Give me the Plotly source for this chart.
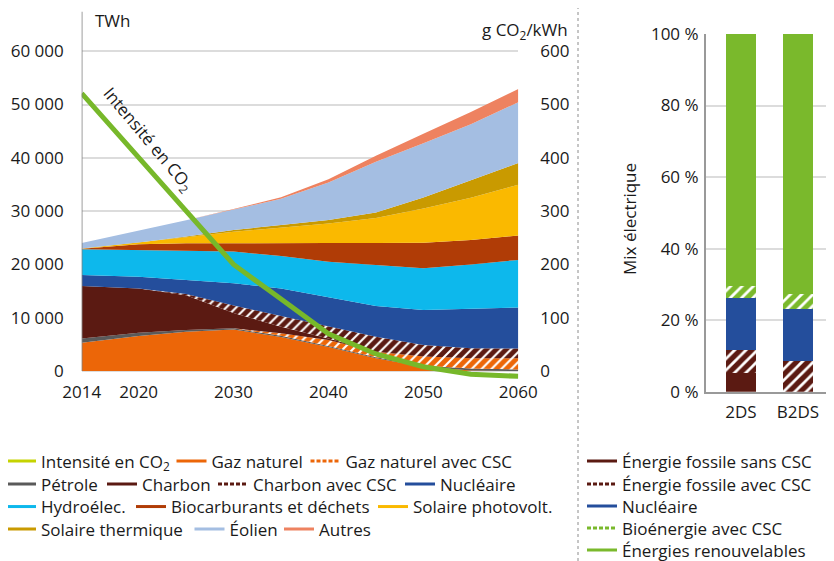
import plotly.graph_objects as go

# ---------------- data ----------------
years = [2014, 2020, 2025, 2030, 2035, 2040, 2045, 2050, 2055, 2060]
gaz_naturel = [5300, 6550, 7350, 7800, 6400, 4500, 2400, 800, 100, 0]
petrole = [800, 650, 350, 200, 200, 200, 200, 200, 350, 300]
gaz_naturel_csc = [0, 0, 0, 0, 500, 1100, 1000, 1700, 1950, 2100]
charbon = [9850, 8300, 6500, 2900, 1200, 300, 0, 0, 0, 0]
charbon_csc = [0, 0, 250, 1400, 2000, 2300, 2850, 2200, 1850, 1800]
nucleaire = [2060, 2190, 2620, 4150, 5200, 5500, 5750, 6540, 7350, 7700]
hydroelec = [4840, 5010, 5510, 5950, 6100, 6600, 7700, 7820, 8400, 8950]
biocarburants = [100, 1100, 1370, 1600, 2400, 3500, 4100, 4790, 4600, 4550]
solaire_pv = [50, 270, 1130, 2140, 2950, 3680, 4700, 6440, 7920, 9550]
solaire_thermique = [0, 30, 170, 310, 440, 670, 1040, 2050, 3270, 4070]
eolien = [1000, 2150, 3020, 3840, 4920, 7010, 9520, 10210, 10500, 11400]
autres = [0, 0, 0, 110, 290, 630, 1140, 1770, 2290, 2500]
intensite_co2 = [521, 400, 300, 200, 135, 70, 32, 8, -6, -10]

x_tick_vals = [2014, 2020, 2030, 2040, 2050, 2060]
y_tick_vals = [0, 10000, 20000, 30000, 40000, 50000, 60000]
y_tick_text = ["0", "10 000", "20 000", "30 000", "40 000", "50 000", "60 000"]
y2_tick_vals = [0, 100, 200, 300, 400, 500, 600]

scenarios = ["2DS", "B2DS"]
fossile_sans_csc = [5.3, 0.0]
fossile_avec_csc = [6.4, 8.7]
nucleaire_mix = [14.5, 14.3]
bioenergie_csc = [3.4, 4.3]
renouvelables = [70.4, 72.7]
pct_tick_vals = [0, 20, 40, 60, 80, 100]
pct_tick_text = ["0 %", "20 %", "40 %", "60 %", "80 %", "100 %"]

# ---------------- style ----------------
FONT = "Open Sans"
TXT = "#1a1a1a"
C_GAZ = "#EC6608"
C_PET = "#5A5A5A"
C_CHA = "#5B1A12"
C_NUC = "#244E9C"
C_HYD = "#0DB8EC"
C_BIO = "#B03C06"
C_PV = "#FAB900"
C_ST = "#C99A00"
C_EOL = "#A4BEE2"
C_AUT = "#EE8260"
C_LINE = "#77B82A"
C_LEG_LINE = "#C5D300"
C_REN = "#7AB92C"

# page body has an 8px margin: figure is sized to the visible area
OFF = 8
W, H = 834 - OFF, 561 - OFF

def fx(sx):  # screen x -> paper fraction
    return (sx - OFF) / W

def fy(sy):  # screen y -> paper fraction
    return 1 - (sy - OFF) / H

fig = go.Figure()

def area(y, color, pattern=None):
    kw = dict(x=years, y=y, mode="lines", line=dict(width=0, color=color),
              stackgroup="one", fillcolor=color, showlegend=False,
              hoverinfo="skip", xaxis="x", yaxis="y")
    if pattern:
        kw["fillpattern"] = dict(shape="/", fgcolor=pattern, bgcolor="white",
                                 fgopacity=1, fillmode="replace",
                                 size=7, solidity=0.7)
        kw["fillcolor"] = "white"
    fig.add_trace(go.Scatter(**kw))

area(gaz_naturel, C_GAZ)
area(petrole, C_PET)
area(gaz_naturel_csc, C_GAZ, pattern=C_GAZ)
area(charbon, C_CHA)
area(charbon_csc, C_CHA, pattern=C_CHA)
area(nucleaire, C_NUC)
area(hydroelec, C_HYD)
area(biocarburants, C_BIO)
area(solaire_pv, C_PV)
area(solaire_thermique, C_ST)
area(eolien, C_EOL)
area(autres, C_AUT)

fig.add_trace(go.Scatter(x=years, y=intensite_co2, mode="lines",
                         line=dict(color=C_LINE, width=5),
                         showlegend=False, hoverinfo="skip",
                         xaxis="x", yaxis="y2"))

# right bar chart
def bar(vals, color, pattern=None):
    marker = dict(color=color, line=dict(width=0))
    if pattern:
        marker = dict(color="white", line=dict(width=0),
                      pattern=dict(shape="/", fgcolor=pattern, bgcolor="white",
                                   fgopacity=1, fillmode="replace",
                                   size=8, solidity=0.65))
    fig.add_trace(go.Bar(x=scenarios, y=vals, marker=marker, width=0.52,
                         showlegend=False, hoverinfo="skip",
                         xaxis="x2", yaxis="y3"))

bar(fossile_sans_csc, C_CHA)
bar(fossile_avec_csc, C_CHA, pattern=C_CHA)
bar(nucleaire_mix, C_NUC)
bar(bioenergie_csc, C_REN, pattern=C_REN)
bar(renouvelables, C_REN)

# legend entries: one small legend per entry (text start x, row y, on screen)
DASH = "4px,2px"
legend_entries = [
    ("Intensité en CO<sub>2</sub>", C_LEG_LINE, "solid", 41, 461.5),
    ("Gaz naturel", C_GAZ, "solid", 211.5, 461.5),
    ("Gaz naturel avec CSC", C_GAZ, DASH, 345.5, 461.5),
    ("Pétrole", C_PET, "solid", 41, 484.5),
    ("Charbon", C_CHA, "solid", 142, 484.5),
    ("Charbon avec CSC", C_CHA, DASH, 253, 484.5),
    ("Nucléaire", C_NUC, "solid", 440, 484.5),
    ("Hydroélec.", C_HYD, "solid", 41, 507),
    ("Biocarburants et déchets", C_BIO, "solid", 171, 507),
    ("Solaire photovolt.", C_PV, "solid", 413, 507),
    ("Solaire thermique", C_ST, "solid", 41, 529.5),
    ("Éolien", C_EOL, "solid", 229.5, 529.5),
    ("Autres", C_AUT, "solid", 319, 529.5),
    ("Énergie fossile sans CSC", C_CHA, "solid", 622, 461.5),
    ("Énergie fossile avec CSC", C_CHA, DASH, 622, 484.5),
    ("Nucléaire", C_NUC, "solid", 622, 506.5),
    ("Bioénergie avec CSC", C_REN, DASH, 622, 528.5),
    ("Énergies renouvelables", C_REN, "solid", 622, 550.5),
]

legend_layout = {}
for i, (name, color, dash, tx, ty) in enumerate(legend_entries):
    lid = "legend" if i == 0 else f"legend{i + 1}"
    fig.add_trace(go.Scatter(x=[None], y=[None], mode="lines", name=name,
                             line=dict(color=color, width=3, dash=dash),
                             legend=lid, showlegend=True, hoverinfo="skip",
                             xaxis="x", yaxis="y"))
    legend_layout[lid] = dict(
        orientation="h", x=fx(tx - 40), y=fy(ty), xanchor="left",
        yanchor="middle", font=dict(family=FONT, size=17, color=TXT),
        bgcolor="rgba(0,0,0,0)", borderwidth=0, itemwidth=30,
        traceorder="normal", tracegroupgap=0)

layout = dict(
    width=W, height=H,
    margin=dict(l=0, r=0, t=0, b=0, autoexpand=False),
    paper_bgcolor="white", plot_bgcolor="white",
    font=dict(family=FONT, size=17, color=TXT),
    xaxis=dict(domain=[fx(81.7), fx(518.3)], range=[2014, 2060],
               tickvals=x_tick_vals, showgrid=False, zeroline=False,
               showline=False, ticks="", ticklabelstandoff=1, automargin=False,
               tickfont=dict(size=17, color=TXT)),
    yaxis=dict(domain=[fy(379), fy(11.5)], range=[-1500, 67450],
               tickvals=y_tick_vals, ticktext=y_tick_text,
               showgrid=True, gridcolor="#DCDCDC", gridwidth=1.5,
               zeroline=False, showline=False, ticks="", automargin=False,
               ticklabelstandoff=17, tickfont=dict(size=17, color=TXT)),
    yaxis2=dict(overlaying="y", side="right", range=[-15, 674.5],
                tickvals=y2_tick_vals, showgrid=False, zeroline=False,
                showline=False, ticks="", ticklabelstandoff=21, automargin=False,
                tickfont=dict(size=17, color=TXT)),
    xaxis2=dict(domain=[fx(705.7), 1.0], range=[-0.6175, 1.633],
                type="category", showgrid=False, zeroline=False,
                showline=True, linecolor="#999999", linewidth=1.5, ticks="",
                ticklabelstandoff=4, tickfont=dict(size=17, color=TXT),
                anchor="y3", automargin=False),
    yaxis3=dict(domain=[fy(391.7), fy(34)], range=[0, 100],
                tickvals=pct_tick_vals, ticktext=pct_tick_text,
                showgrid=True, gridcolor="#DCDCDC", gridwidth=1.5,
                zeroline=False, showline=True, linecolor="#999999",
                linewidth=1.5, ticks="", ticklabelstandoff=2,
                tickfont=dict(size=17, color=TXT), anchor="x2", automargin=False),
    barmode="stack",
    showlegend=True,
)
layout.update(legend_layout)
fig.update_layout(**layout)

# left axis line (only from 0 up) and separator
fig.add_shape(type="line", xref="x", yref="y", x0=2014, x1=2014, y0=0, y1=67450,
              line=dict(color="#7F7F7F", width=1.5), layer="above")
fig.add_shape(type="line", xref="paper", yref="paper", x0=fx(578), x1=fx(578),
              y0=0, y1=1, line=dict(color="#8C8C8C", width=1, dash="dot"))

fig.add_annotation(text="TWh", xref="paper", yref="paper", x=fx(93), y=fy(20),
                   xanchor="left", yanchor="middle", showarrow=False,
                   font=dict(family=FONT, size=17, color=TXT))
fig.add_annotation(text="g CO<sub>2</sub>/kWh", xref="paper", yref="paper",
                   x=fx(570), y=fy(30), xanchor="right", yanchor="middle",
                   showarrow=False, font=dict(family=FONT, size=17, color=TXT))
fig.add_annotation(text="Mix électrique", xref="paper", yref="paper",
                   x=fx(629), y=fy(219), xanchor="center", yanchor="middle",
                   textangle=-90, showarrow=False,
                   font=dict(family=FONT, size=17, color=TXT))
fig.add_annotation(text="Intensité en CO<sub>2</sub>", xref="x", yref="y",
                   x=2021.0, y=43500, xanchor="center", yanchor="middle",
                   textangle=50, showarrow=False,
                   font=dict(family=FONT, size=17, color=TXT))

fig.write_html("out.html")
